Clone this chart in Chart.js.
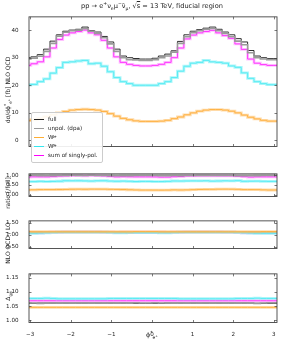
<!DOCTYPE html>
<html>
<head>
<meta charset="utf-8">
<script src="https://cdn.jsdelivr.net/npm/chart.js@4.4.1/dist/chart.umd.min.js"></script>
<style>
  body { margin: 0; background: #fff; }
  #wrap { position: relative; width: 288px; height: 342px; font-family: 'DejaVu Sans', sans-serif; color: #222; }
  canvas { position: absolute; left: 0; }
  .txt { position: absolute; white-space: nowrap; line-height: 1; }
  .rot { transform: translate(-50%, -50%) rotate(-90deg); }
  sub, sup { font-size: 70%; line-height: 0; }
  #legend { position: absolute; left: 31px; top: 112px; width: 70px; height: 49px; border: 0.6px solid #ccc; border-radius: 2px; background: rgba(255,255,255,0.9); font-size: 5.6px; }
  .li { position: absolute; left: 2px; height: 8px; display: flex; align-items: center; }
  .sw { width: 10px; margin-right: 4px; }
</style>
</head>
<body>
<div id="wrap">
  <canvas id="c1"></canvas>
  <canvas id="c2"></canvas>
  <canvas id="c3"></canvas>
  <canvas id="c4"></canvas>

  <div class="txt" style="left:152px; top:3px; transform:translateX(-50%); font-size:6.6px;">pp → e<sup>+</sup>ν<sub>e</sub>μ<sup>−</sup>ν̄<sub>μ</sub>, √<span style="text-decoration:overline">s</span> = 13 TeV, fiducial region</div>
  <div class="txt rot" style="left:8px; top:90px; font-size:6px;">dσ/dϕ<sup>*</sup><sub>e<sup>+</sup></sub> [fb] NLO QCD</div>
  <div class="txt rot" style="left:8px; top:193px; font-size:6px;">ratio [/full]</div>
  <div class="txt rot" style="left:8px; top:243px; font-size:6px;">NLO QCD / LO</div>
  <div class="txt rot" style="left:8px; top:296px; font-size:6px;">Δ<sub>gg</sub></div>
  <div class="txt" style="left:152px; top:332px; transform:translateX(-50%); font-size:6.4px;">ϕ<sup>*</sup><sub>e<sup>+</sup></sub></div>

  <div id="legend">
    <div class="li" style="top:2px"><div class="sw" style="border-top:1px solid #222"></div>full</div>
    <div class="li" style="top:11px"><div class="sw" style="border-top:1.8px solid #9a9a9a"></div>unpol. (dpa)</div>
    <div class="li" style="top:20px"><div class="sw" style="border-top:1.4px solid #ffae33"></div>W<sup>+</sup><sub style="margin-left:-4px">L</sub></div>
    <div class="li" style="top:29px"><div class="sw" style="border-top:1.4px solid #33e8f0"></div>W<sup>+</sup><sub style="margin-left:-4px">T</sub></div>
    <div class="li" style="top:38px"><div class="sw" style="border-top:1.4px solid #ff00ff"></div>sum of singly-pol.</div>
  </div>
</div>

<script>
// binning: 40 bins over [-pi, pi]
const nBins = 40;
const binEdges = Array.from({ length: nBins + 1 }, (_, i) => -Math.PI + i * Math.PI / 20);
const xTicks = [-3, -2, -1, 0, 1, 2, 3];

// main panel, NLO QCD [fb]
const full   = [30.2, 30.0, 30.3, 31.1, 33.1, 36.0, 38.3, 39.6, 40.0, 40.3, 41.1, 39.8, 39.3, 37.7, 35.7, 33.1, 30.6, 30.0, 29.7, 29.5,
                29.5, 29.8, 30.6, 31.3, 32.5, 35.9, 38.3, 39.6, 40.2, 40.7, 41.1, 40.3, 39.3, 38.3, 36.9, 35.7, 32.6, 30.6, 30.0, 29.7];
const unpol  = [29.7, 29.5, 29.8, 30.5, 32.3, 35.2, 37.8, 39.2, 39.8, 40.0, 40.5, 39.6, 38.8, 37.2, 35.0, 32.3, 30.0, 29.3, 29.2, 29.0,
                29.0, 29.3, 30.0, 30.6, 32.0, 35.2, 37.6, 39.1, 39.8, 40.3, 40.6, 39.8, 38.8, 37.6, 36.0, 34.7, 31.8, 30.0, 29.5, 29.3];
const wl     = [7.1, 7.2, 7.5, 8.0, 8.6, 9.3, 10.0, 10.5, 11.0, 11.2, 11.3, 11.2, 11.0, 10.5, 9.7, 8.8, 8.0, 7.5, 7.1, 6.9,
                6.9, 6.9, 7.0, 7.3, 7.9, 8.5, 9.3, 10.0, 10.6, 11.0, 11.2, 11.2, 11.0, 10.6, 10.0, 9.2, 8.4, 7.8, 7.3, 7.0];
const wt     = [20.1, 20.1, 20.3, 21.3, 22.3, 24.4, 26.4, 28.3, 28.5, 28.8, 29.0, 27.8, 28.0, 26.9, 24.9, 22.8, 21.3, 20.6, 20.0, 20.0,
                20.0, 20.0, 20.6, 21.3, 22.8, 25.1, 26.9, 28.0, 28.3, 29.0, 28.5, 28.3, 28.0, 27.0, 26.5, 24.5, 22.5, 21.3, 20.6, 20.2];
const sumPol = [27.2, 27.2, 27.8, 28.5, 30.3, 33.5, 36.6, 38.2, 39.0, 39.5, 40.0, 39.0, 38.3, 36.3, 33.5, 30.3, 28.3, 27.6, 27.2, 27.0,
                27.0, 27.2, 27.6, 28.3, 30.0, 33.5, 36.8, 38.2, 39.0, 39.5, 39.9, 39.0, 38.0, 37.0, 35.0, 33.0, 29.5, 28.0, 27.5, 27.2];

// NLO QCD / LO
const kFull  = [1.10, 1.10, 1.10, 1.10, 1.10, 1.10, 1.11, 1.11, 1.11, 1.11, 1.11, 1.11, 1.11, 1.10, 1.10, 1.10, 1.10, 1.10, 1.10, 1.10,
                1.10, 1.10, 1.10, 1.10, 1.10, 1.10, 1.10, 1.11, 1.11, 1.11, 1.11, 1.11, 1.11, 1.10, 1.10, 1.10, 1.10, 1.10, 1.10, 1.10];
const kUnpol = [1.09, 1.09, 1.09, 1.10, 1.10, 1.10, 1.11, 1.11, 1.11, 1.11, 1.11, 1.11, 1.10, 1.10, 1.10, 1.10, 1.10, 1.09, 1.09, 1.09,
                1.09, 1.09, 1.10, 1.10, 1.10, 1.10, 1.11, 1.11, 1.11, 1.11, 1.11, 1.11, 1.10, 1.10, 1.10, 1.10, 1.10, 1.09, 1.09, 1.09];
const kWl    = [1.13, 1.13, 1.12, 1.12, 1.12, 1.12, 1.12, 1.12, 1.12, 1.12, 1.12, 1.12, 1.12, 1.12, 1.12, 1.12, 1.12, 1.12, 1.13, 1.13,
                1.13, 1.13, 1.12, 1.12, 1.12, 1.12, 1.12, 1.12, 1.12, 1.12, 1.12, 1.12, 1.12, 1.12, 1.12, 1.12, 1.12, 1.12, 1.13, 1.13];
const kWt    = [1.06, 1.06, 1.06, 1.07, 1.08, 1.09, 1.10, 1.10, 1.10, 1.10, 1.10, 1.10, 1.10, 1.10, 1.09, 1.08, 1.08, 1.09, 1.09, 1.09,
                1.09, 1.09, 1.08, 1.08, 1.09, 1.10, 1.10, 1.10, 1.10, 1.10, 1.10, 1.10, 1.10, 1.10, 1.09, 1.08, 1.07, 1.06, 1.06, 1.06];
const kSum   = [1.08, 1.08, 1.08, 1.08, 1.09, 1.10, 1.10, 1.11, 1.11, 1.11, 1.11, 1.11, 1.11, 1.10, 1.10, 1.09, 1.10, 1.10, 1.10, 1.10,
                1.10, 1.10, 1.10, 1.09, 1.10, 1.10, 1.11, 1.11, 1.11, 1.11, 1.11, 1.11, 1.10, 1.10, 1.09, 1.08, 1.08, 1.08, 1.08, 1.08];

// Delta panel
const dFull  = [1.060, 1.060, 1.060, 1.061, 1.061, 1.061, 1.061, 1.061, 1.061, 1.061, 1.061, 1.061, 1.061, 1.061, 1.061, 1.061, 1.061, 1.061, 1.060, 1.060,
                1.060, 1.060, 1.060, 1.061, 1.061, 1.061, 1.061, 1.061, 1.061, 1.061, 1.061, 1.061, 1.061, 1.061, 1.061, 1.061, 1.061, 1.060, 1.060, 1.060];
const dUnpol = [1.062, 1.062, 1.061, 1.060, 1.061, 1.062, 1.061, 1.062, 1.061, 1.062, 1.062, 1.061, 1.062, 1.061, 1.062, 1.061, 1.062, 1.061, 1.062, 1.061,
                1.061, 1.062, 1.061, 1.062, 1.061, 1.062, 1.061, 1.062, 1.061, 1.062, 1.061, 1.062, 1.061, 1.062, 1.061, 1.062, 1.061, 1.060, 1.061, 1.062];
const dWl    = [1.046, 1.046, 1.046, 1.046, 1.046, 1.046, 1.046, 1.046, 1.046, 1.046, 1.046, 1.046, 1.046, 1.046, 1.046, 1.046, 1.046, 1.046, 1.046, 1.046,
                1.046, 1.046, 1.046, 1.046, 1.046, 1.046, 1.046, 1.046, 1.046, 1.046, 1.046, 1.046, 1.046, 1.046, 1.046, 1.046, 1.046, 1.046, 1.046, 1.046];
const dWt    = [1.077, 1.077, 1.077, 1.077, 1.078, 1.077, 1.076, 1.076, 1.076, 1.076, 1.076, 1.076, 1.076, 1.076, 1.077, 1.077, 1.077, 1.077, 1.077, 1.077,
                1.077, 1.077, 1.077, 1.077, 1.077, 1.076, 1.076, 1.076, 1.076, 1.076, 1.076, 1.076, 1.076, 1.076, 1.077, 1.077, 1.077, 1.078, 1.077, 1.077];
const dSum   = [1.069, 1.069, 1.069, 1.069, 1.069, 1.069, 1.069, 1.069, 1.069, 1.069, 1.069, 1.069, 1.069, 1.069, 1.069, 1.069, 1.069, 1.069, 1.069, 1.069,
                1.069, 1.069, 1.069, 1.069, 1.069, 1.069, 1.069, 1.069, 1.069, 1.069, 1.069, 1.069, 1.069, 1.069, 1.069, 1.069, 1.069, 1.069, 1.069, 1.069];

const AXIS_LEFT = 29, AXIS_RIGHT = 277;

// histogram -> step points
function steps(vals) {
    const pts = vals.map((v, i) => ({ x: binEdges[i], y: v }));
    pts.push({ x: binEdges[nBins], y: vals[nBins - 1] });
    return pts;
}

function line(vals, color, width, band) {
    const out = [];
    if (band) {
        out.push({ data: steps(vals), borderColor: band, borderWidth: width + 1.8, stepped: 'after', pointRadius: 0, fill: false });
    }
    out.push({ data: steps(vals), borderColor: color, borderWidth: width, stepped: 'after', pointRadius: 0, fill: false });
    return out;
}

function series(a, b, c, d, e) {
    return [
        ...line(c, '#ffa51f', 1.0, 'rgba(255,190,100,0.55)'),
        ...line(d, '#2ee6f2', 1.0, 'rgba(120,240,245,0.6)'),
        ...line(b, '#9a9a9a', 1.6),
        ...line(e, '#ff00ff', 1.0, 'rgba(255,120,255,0.45)'),
        ...line(a, '#1a1a1a', 0.9)
    ];
}

// frame + inward ticks, matplotlib style
const framePlugin = {
    id: 'frame',
    afterDatasetsDraw(chart) {
        const { ctx, chartArea: a, scales: { x, y } } = chart;
        ctx.save();
        ctx.strokeStyle = '#444';
        ctx.lineWidth = 0.7;
        const tl = 2.5;
        ctx.beginPath();
        xTicks.forEach(v => {
            const px = Math.round(x.getPixelForValue(v)) + 0.5;
            ctx.moveTo(px, a.bottom); ctx.lineTo(px, a.bottom - tl);
            ctx.moveTo(px, a.top); ctx.lineTo(px, a.top + tl);
        });
        y.ticks.forEach(t => {
            const py = Math.round(y.getPixelForValue(t.value)) + 0.5;
            ctx.moveTo(a.left, py); ctx.lineTo(a.left + tl, py);
            ctx.moveTo(a.right, py); ctx.lineTo(a.right - tl, py);
        });
        ctx.stroke();
        ctx.lineWidth = 0.9;
        ctx.strokeRect(a.left, a.top, a.width, a.height);
        ctx.restore();
    }
};

function panel(id, top, height, yMin, yMax, yTicks, digits, datasets, showX) {
    const cv = document.getElementById(id);
    cv.style.top = top + 'px';
    cv.width = 288; cv.height = height;
    cv.style.width = '288px'; cv.style.height = height + 'px';
    return new Chart(cv, {
        type: 'line',
        data: { datasets },
        options: {
            responsive: false,
            animation: false,
            events: [],
            layout: { padding: { top: 3, bottom: showX ? 0 : 3, left: 0, right: 288 - AXIS_RIGHT } },
            plugins: { legend: { display: false }, tooltip: { enabled: false } },
            scales: {
                x: {
                    type: 'linear', min: -3.03, max: 3.08,
                    display: showX,
                    afterBuildTicks: s => { s.ticks = xTicks.map(v => ({ value: v })); },
                    afterFit: s => { s.height = 19.5; },
                    grid: { display: false },
                    border: { display: false },
                    ticks: { padding: 1, color: '#222', font: { family: 'DejaVu Sans', size: 5.6 }, maxRotation: 0,
                             callback: v => (v < 0 ? '\u2212' + (-v) : '' + v) }
                },
                y: {
                    min: yMin, max: yMax,
                    afterBuildTicks: s => { s.ticks = yTicks.map(v => ({ value: v })); },
                    afterFit: s => { s.width = AXIS_LEFT; },
                    grid: { display: false },
                    border: { display: false },
                    ticks: { padding: 2.5, color: '#222', font: { family: 'DejaVu Sans', size: 5.6 },
                             callback: v => v.toFixed(digits) }
                }
            }
        },
        plugins: [framePlugin]
    });
}

const rFull = full.map(() => 1);
const rUnpol = unpol.map((v, i) => v / full[i]);
const rWl = wl.map((v, i) => v / full[i]);
const rWt = wt.map((v, i) => v / full[i]);
const rSum = sumPol.map((v, i) => v / full[i]);

panel('c1', 11, 158, -2.2, 44.8, [0, 10, 20, 30, 40], 0, series(full, unpol, wl, wt, sumPol), false);
panel('c2', 167.7, 51.3, -0.10, 1.07, [0, 0.5, 1.0], 2, series(rFull, rUnpol, rWl, rWt, rSum), false);
panel('c3', 214.7, 56.6, 0.43, 1.57, [0.5, 1.0, 1.5], 2, series(kFull, kUnpol, kWl, kWt, kSum), false);
panel('c4', 268, 74, 0.993, 1.163, [1.00, 1.05, 1.10, 1.15], 2, series(dFull, dUnpol, dWl, dWt, dSum), true);
</script>
</body>
</html>
